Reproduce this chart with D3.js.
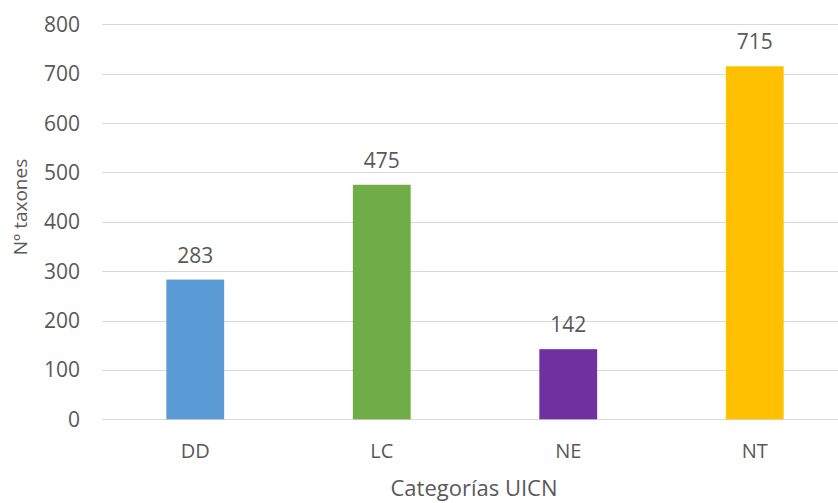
<!DOCTYPE html>
<html>
<head>
<meta charset="utf-8">
<script src="https://cdn.jsdelivr.net/npm/d3@7"></script>
<style>
  html, body { margin: 0; padding: 0; background: #fff; }
  svg { display: block; }
  text { font-family: "Open Sans", sans-serif; fill: #595959; }
</style>
</head>
<body>
<svg id="chart" width="838" height="503"></svg>
<script>
// Number of taxa per IUCN category
const categories = ["DD", "LC", "NE", "NT"];
const values = [283, 475, 142, 715];
const colors = ["#5B9BD5", "#70AD47", "#7030A0", "#FFC000"];
const yTicks = [0, 100, 200, 300, 400, 500, 600, 700, 800];
const xTitle = "Categorías UICN";
const yTitle = "Nº taxones";

const svg = d3.select("#chart");
const plot = { left: 102, right: 848, top: 24.3, bottom: 419.3 };

const x = d3.scaleBand()
  .domain(categories)
  .range([plot.left, plot.right])
  .paddingInner(0.69)
  .paddingOuter(0.345);

const y = d3.scaleLinear()
  .domain([0, 800])
  .range([plot.bottom, plot.top]);

// horizontal gridlines
svg.append("g")
  .selectAll("line")
  .data(yTicks)
  .join("line")
  .attr("x1", plot.left)
  .attr("x2", 838)
  .attr("y1", d => Math.round(y(d)) + 0.5)
  .attr("y2", d => Math.round(y(d)) + 0.5)
  .attr("stroke", "#d9d9d9")
  .attr("stroke-width", 1);

// y tick labels
svg.append("g")
  .selectAll("text")
  .data(yTicks)
  .join("text")
  .attr("x", 80)
  .attr("y", d => y(d))
  .attr("dy", "0.36em")
  .attr("text-anchor", "end")
  .attr("font-size", 21)
  .text(d => d);

// bars
svg.append("g")
  .selectAll("rect")
  .data(categories)
  .join("rect")
  .attr("x", d => x(d))
  .attr("width", x.bandwidth())
  .attr("y", (d, i) => y(values[i]))
  .attr("height", (d, i) => y(0) - y(values[i]))
  .attr("fill", (d, i) => colors[i]);

// value labels
svg.append("g")
  .selectAll("text")
  .data(categories)
  .join("text")
  .attr("x", d => x(d) + x.bandwidth() / 2)
  .attr("y", (d, i) => y(values[i]) - 17)
  .attr("text-anchor", "middle")
  .attr("font-size", 21)
  .text((d, i) => values[i]);

// category labels
svg.append("g")
  .selectAll("text")
  .data(categories)
  .join("text")
  .attr("x", d => x(d) + x.bandwidth() / 2)
  .attr("y", 458)
  .attr("text-anchor", "middle")
  .attr("font-size", 20)
  .text(d => d);

// axis titles
svg.append("text")
  .attr("x", 474)
  .attr("y", 496)
  .attr("text-anchor", "middle")
  .attr("font-size", 22)
  .text(xTitle);

svg.append("text")
  .attr("transform", "translate(27,207) rotate(-90)")
  .attr("text-anchor", "middle")
  .attr("font-size", 19)
  .text(yTitle);
</script>
</body>
</html>
